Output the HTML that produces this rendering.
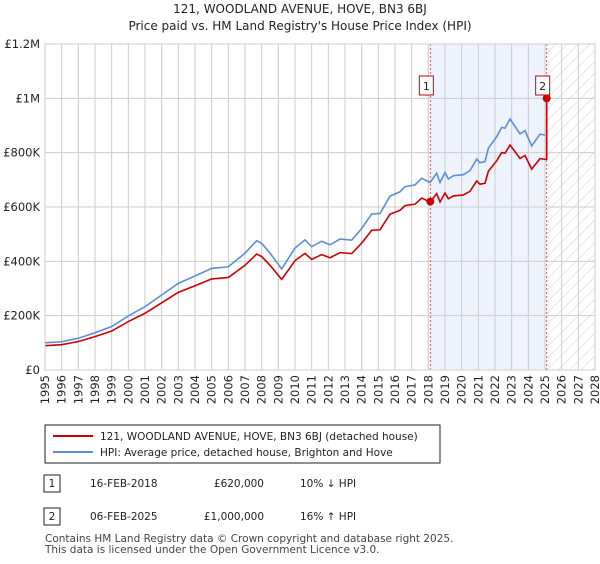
<!DOCTYPE html>
<html><head><meta charset="utf-8">
<style>
body{margin:0;background:#fff;font-family:"DejaVu Sans","Liberation Sans",sans-serif;}
svg text{font-family:"DejaVu Sans","Liberation Sans",sans-serif;}
</style></head>
<body>
<svg id="c" width="600" height="560" xmlns="http://www.w3.org/2000/svg">
<defs>
<pattern id="hatch" width="8" height="8" patternUnits="userSpaceOnUse" patternTransform="rotate(45)">
<line x1="0" y1="0" x2="0" y2="8" stroke="#d0d0d0" stroke-width="1"/>
</pattern>
</defs>
<text x="300" y="13" text-anchor="middle" font-size="12" fill="#222">121, WOODLAND AVENUE, HOVE, BN3 6BJ</text>
<text x="300" y="30" text-anchor="middle" font-size="12" fill="#222">Price paid vs. HM Land Registry's House Price Index (HPI)</text>
<g id="plot"></g>
<g>
<rect x="45" y="425" width="395" height="38" fill="#fff" stroke="#222" stroke-width="1"/>
<line x1="53" y1="436" x2="93" y2="436" stroke="#cc0000" stroke-width="2"/>
<text x="100" y="440" font-size="10.5" fill="#222">121, WOODLAND AVENUE, HOVE, BN3 6BJ (detached house)</text>
<line x1="53" y1="452" x2="93" y2="452" stroke="#5b8fd4" stroke-width="2"/>
<text x="100" y="456" font-size="10.5" fill="#222">HPI: Average price, detached house, Brighton and Hove</text>
</g>
<g font-size="10.5" fill="#222">
<rect x="44" y="475" width="16" height="17" fill="#fff" stroke="#222"/>
<text x="52" y="487" text-anchor="middle">1</text>
<text x="90" y="487">16-FEB-2018</text>
<text x="264" y="487" text-anchor="end">£620,000</text>
<text x="300" y="487">10% ↓ HPI</text>
<rect x="44" y="508" width="16" height="17" fill="#fff" stroke="#222"/>
<text x="52" y="520" text-anchor="middle">2</text>
<text x="90" y="520">06-FEB-2025</text>
<text x="264" y="520" text-anchor="end">£1,000,000</text>
<text x="300" y="520">16% ↑ HPI</text>
</g>
<text x="45" y="542" font-size="10.5" fill="#444">Contains HM Land Registry data © Crown copyright and database right 2025.</text>
<text x="45" y="553" font-size="10.5" fill="#444">This data is licensed under the Open Government Licence v3.0.</text>
</svg>
<script>
const hpiYears=[1995,1996,1997,1998,1999,2000,2001,2002,2003,2004,2005,2006,2007,2007.7,2008,2008.5,2009.2,2010,2010.6,2011,2011.6,2012.1,2012.7,2013.4,2014,2014.6,2015.1,2015.7,2016.3,2016.6,2017.2,2017.6,2018.1,2018.5,2018.7,2019,2019.2,2019.5,2020.1,2020.5,2020.9,2021.1,2021.4,2021.6,2022.1,2022.4,2022.6,2022.9,2023.5,2023.8,2024.2,2024.7,2025.0];
const hpiValues=[100000,104000,117000,137000,160000,199000,233000,276000,319000,346000,374000,380000,430000,476000,466000,430000,372000,449000,479000,454000,474000,461000,482000,478000,521000,574000,576000,640000,656000,675000,681000,706000,690000,724000,690000,727000,703000,715000,719000,734000,776000,763000,767000,816000,859000,893000,890000,924000,869000,881000,825000,868000,865000];
const saleYears=[2018.12,2025.1];
const salePrices=[620000,1000000];
const yTicks=[0,200000,400000,600000,800000,1000000,1200000];
const yTickLabels=["£0","£200K","£400K","£600K","£800K","£1M","£1.2M"];
const xMin=1995,xMax=2028,yMax=1200000;
const L=45,R=595,T=44,B=370;
const X=v=>L+(v-xMin)/(xMax-xMin)*(R-L);
const Y=v=>B-v/yMax*(B-T);
const NS="http://www.w3.org/2000/svg";
const g=document.getElementById('plot');
function mk(t,a){const e=document.createElementNS(NS,t);for(const k in a)e.setAttribute(k,a[k]);g.appendChild(e);return e;}
let e=mk('rect',{x:X(saleYears[0]),y:T,width:X(saleYears[1])-X(saleYears[0]),height:B-T,fill:'#eef3fd'});


e=mk('rect',{x:X(saleYears[1]),y:T,width:R-X(saleYears[1]),height:B-T,fill:'url(#hatch)'});


for(let yr=xMin;yr<=xMax;yr++){
 e=mk('line',{x1:X(yr),x2:X(yr),y1:T,y2:B,stroke:'#cccccc','stroke-width':1});
 
 
 const tx=X(yr)+4,ty=375;
 e=mk('text',{x:tx,y:ty,'text-anchor':'end','font-size':'11.5',fill:'#222',transform:'rotate(-90 '+tx+' '+ty+')'});
 e.textContent=yr;
 
 
}
yTicks.forEach((v,i)=>{
 e=mk('line',{x1:L,x2:R,y1:Y(v),y2:Y(v),stroke:'#cccccc','stroke-width':1});
 
 
 e=mk('text',{x:L-5,y:Y(v)+4,'text-anchor':'end','font-size':'11.5',fill:'#222'});
 e.textContent=yTickLabels[i];
 
 
});
saleYears.forEach((s,i)=>{
 e=mk('line',{x1:X(s),x2:X(s),y1:T,y2:B,stroke:'#e06060','stroke-width':1,'stroke-dasharray':'2,2'});
 
 
});
function hpiAt(t){for(let i=0;i<hpiYears.length-1;i++){if(t<=hpiYears[i+1]){const f=(t-hpiYears[i])/(hpiYears[i+1]-hpiYears[i]);return hpiValues[i]+f*(hpiValues[i+1]-hpiValues[i]);}}return hpiValues[hpiValues.length-1];}
e=mk('polyline',{points:hpiYears.map((y,i)=>X(y)+','+Y(hpiValues[i])).join(' '),fill:'none',stroke:'#5b8fd4','stroke-width':1.6});


const r1=salePrices[0]/hpiAt(saleYears[0]);
let pts=[];
hpiYears.forEach((y,i)=>{if(y<=saleYears[1])pts.push(X(y)+','+Y(hpiValues[i]*r1));});
pts.push(X(saleYears[1])+','+Y(hpiAt(saleYears[1])*r1));
pts.push(X(saleYears[1])+','+Y(salePrices[1]));
e=mk('polyline',{points:pts.join(' '),fill:'none',stroke:'#cc0000','stroke-width':1.6});


saleYears.forEach((s,i)=>{
 e=mk('circle',{cx:X(s),cy:Y(salePrices[i]),r:4,fill:'#cc0000'});
 
 
 e=mk('rect',{x:X(s)-11,y:76,width:14,height:19,fill:'#fff',stroke:'#cc0000','stroke-width':1});
 
 
 e=mk('text',{x:X(s)-4,y:90,'text-anchor':'middle','font-size':'11',fill:'#222'});
 e.textContent=String(i+1);
 
 
});
e=mk('rect',{x:L,y:T,width:R-L,height:B-T,fill:'none',stroke:'#cccccc'});


</script>
</body></html>
